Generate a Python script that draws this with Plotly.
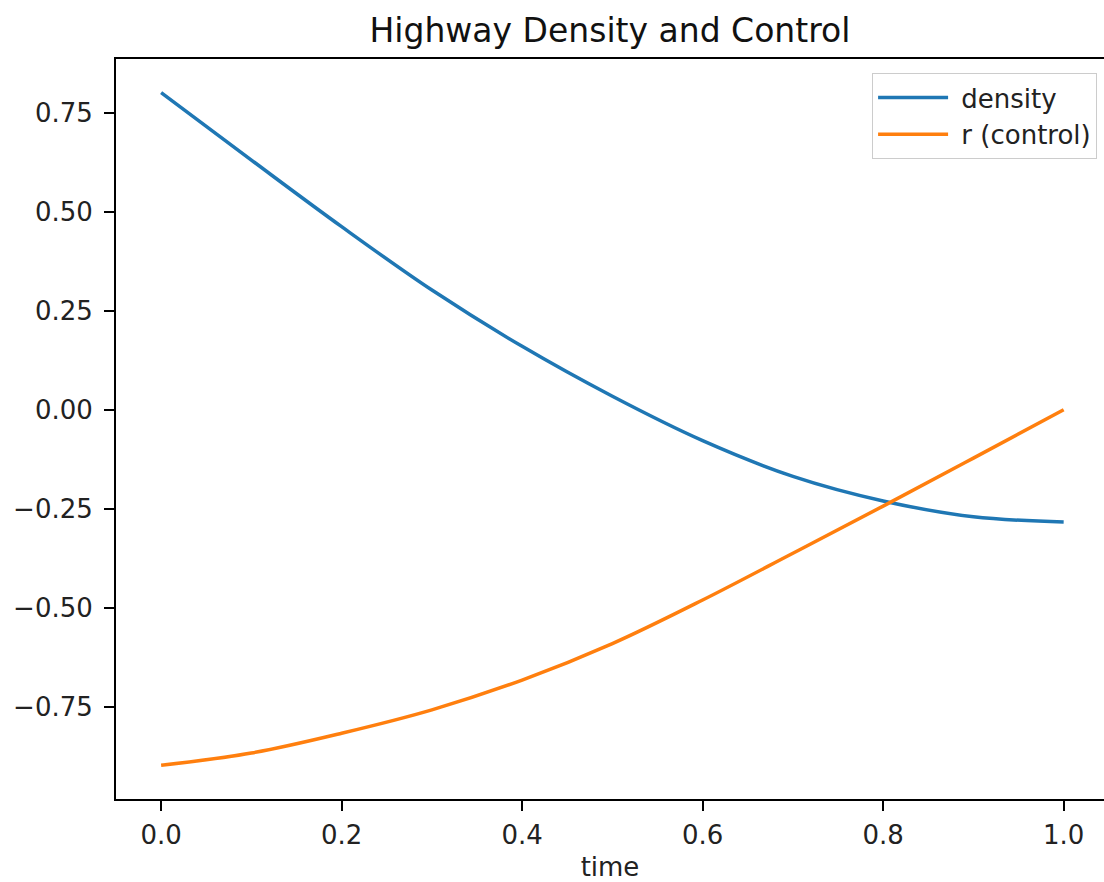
import plotly.graph_objects as go

time = [0.0, 0.1, 0.2, 0.3, 0.4, 0.5, 0.6, 0.7, 0.8, 0.9, 1.0]
density = [0.800, 0.630, 0.462, 0.302, 0.160, 0.034, -0.078, -0.168, -0.230, -0.270, -0.283]
control = [-0.897, -0.866, -0.816, -0.757, -0.682, -0.590, -0.480, -0.362, -0.243, -0.122, 0.000]

x_ticks = [0.0, 0.2, 0.4, 0.6, 0.8, 1.0]
y_ticks = [-0.75, -0.50, -0.25, 0.00, 0.25, 0.50, 0.75]

FONT = "DejaVu Sans"

fig = go.Figure()
fig.add_trace(go.Scatter(x=time, y=density, mode="lines", name=" density",
                         line=dict(color="#1f77b4", width=3.5, shape="spline")))
fig.add_trace(go.Scatter(x=time, y=control, mode="lines", name=" r (control)",
                         line=dict(color="#ff7f0e", width=3.5, shape="spline")))

fig.update_layout(
    width=1104, height=882,
    margin=dict(l=116, r=0, t=59, b=81),
    paper_bgcolor="white", plot_bgcolor="white",
    font=dict(family=FONT, size=26, color="#222222"),
    title=dict(text="Highway Density and Control", x=0.5525, xanchor="center",
               y=1 - 30 / 882, yanchor="middle", yref="container",
               font=dict(family=FONT, size=33, color="#111111")),
    showlegend=True,
    legend=dict(x=0.993, y=0.981, xanchor="right", yanchor="top",
                bgcolor="rgba(255,255,255,0.9)", bordercolor="#cccccc", borderwidth=1,
                itemwidth=70, tracegroupgap=0,
                font=dict(family=FONT, size=26, color="#222222")),
    xaxis=dict(range=[-0.05, 1.0447], tickvals=x_ticks, tickformat=".1f",
               showgrid=False, zeroline=False, showline=True, linecolor="black", linewidth=2,
               mirror=True, ticks="outside", ticklen=10, tickwidth=2, tickcolor="black",
               ticklabelstandoff=2,
               title=dict(text="time", standoff=14, font=dict(family=FONT, size=26))),
    yaxis=dict(range=[-0.982, 0.885], tickvals=y_ticks, tickformat=".2f",
               showgrid=False, zeroline=False, showline=True, linecolor="black", linewidth=2,
               mirror=False, ticks="outside", ticklen=10, tickwidth=2, tickcolor="black",
               ticklabelstandoff=6),
)

fig.write_html("out.html")
